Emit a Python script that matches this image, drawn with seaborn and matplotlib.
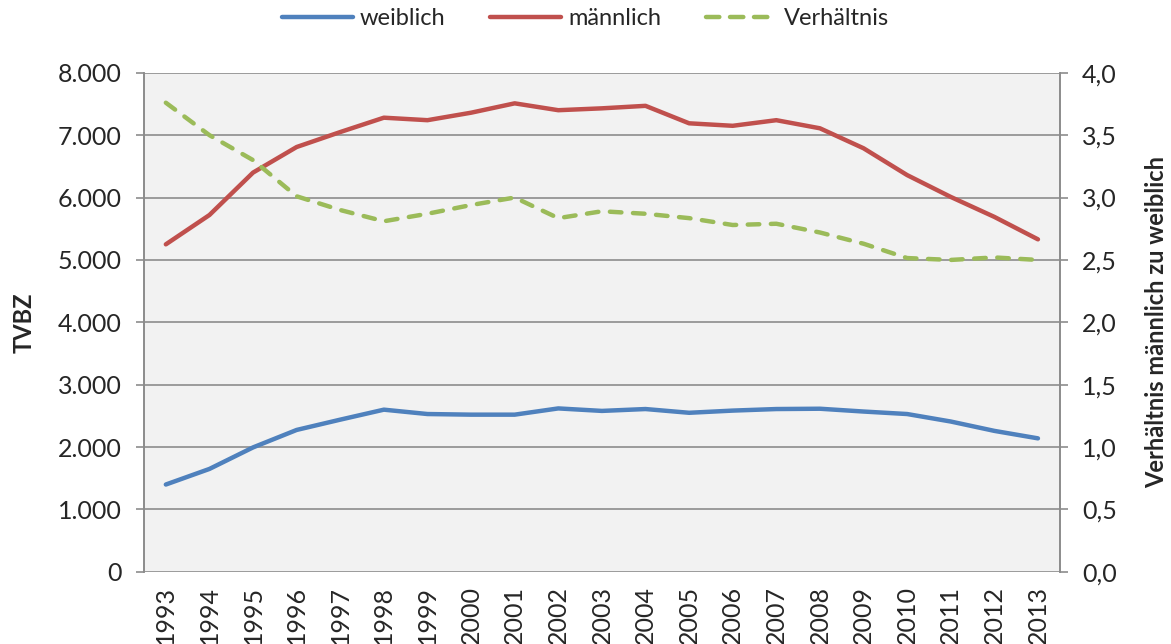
import numpy as np
import pandas as pd
from matplotlib import pyplot as plt
from matplotlib.ticker import FuncFormatter
import seaborn as sns

jahre = list(range(1993, 2014))
weiblich = [1400, 1650, 1995, 2275, 2440, 2600, 2530, 2520, 2520, 2620, 2580,
            2610, 2550, 2585, 2610, 2615, 2570, 2530, 2410, 2260, 2140]
maennlich = [5250, 5720, 6400, 6810, 7050, 7280, 7240, 7360, 7510, 7400, 7430,
             7470, 7190, 7150, 7240, 7110, 6790, 6360, 6010, 5690, 5330]
verhaeltnis = [3.76, 3.50, 3.30, 3.01, 2.90, 2.81, 2.87, 2.94, 3.00, 2.835, 2.89,
               2.87, 2.835, 2.78, 2.79, 2.72, 2.63, 2.515, 2.50, 2.52, 2.50]

sns.set_style('white')
plt.rcParams['font.family'] = ['Lato', 'DejaVu Sans']

df = pd.DataFrame({'idx': np.arange(len(jahre)), 'weiblich': weiblich,
                   'männlich': maennlich, 'Verhältnis': verhaeltnis})

blau, rot, gruen = '#4F81BD', '#C0504D', '#9BBB59'
grau = '#8C8C8C'
fs = 18

fig = plt.figure(figsize=(11.71, 6.44), dpi=100)
ax = fig.add_axes([0.123, 0.112, 0.782, 0.775])
ax.set_facecolor('#F2F2F2')
ax2 = ax.twinx()

sns.lineplot(data=df, x='idx', y='weiblich', ax=ax, color=blau, lw=3.2,
             solid_capstyle='round', label='weiblich', legend=False)
sns.lineplot(data=df, x='idx', y='männlich', ax=ax, color=rot, lw=3.2,
             solid_capstyle='round', label='männlich', legend=False)
sns.lineplot(data=df, x='idx', y='Verhältnis', ax=ax2, color=gruen, lw=3.2,
             dash_capstyle='round', label='Verhältnis', legend=False)
ax2.lines[0].set_dashes((2.6, 2.6))

ax.set_xlim(-0.5, len(jahre) - 0.5)
ax.set_ylim(0, 8000)
ax2.set_ylim(0, 4)
ax.set_yticks(np.arange(0, 8001, 1000))
ax2.set_yticks(np.arange(0, 4.01, 0.5))
ax.yaxis.set_major_formatter(FuncFormatter(lambda v, p: f'{int(v):,}'.replace(',', '.')))
ax2.yaxis.set_major_formatter(FuncFormatter(lambda v, p: f'{v:.1f}'.replace('.', ',')))

ax.set_xticks(np.arange(len(jahre)))
ax.set_xticklabels([str(j) for j in jahre], rotation=90, fontsize=fs)
ax.set_xticks(np.arange(-0.5, len(jahre)), minor=True)
ax.tick_params(axis='x', which='major', length=0, pad=10)
ax.tick_params(axis='x', which='minor', length=6, color=grau, width=1.2, direction='out')
ax.tick_params(axis='y', labelsize=fs, length=6, color=grau, width=1.2, pad=10)
ax2.tick_params(axis='y', labelsize=fs, length=6, color=grau, width=1.2, pad=10)

ax.yaxis.grid(True, color=grau, lw=1.2)
ax.set_axisbelow(True)
for a in (ax, ax2):
    for s in a.spines.values():
        s.set_visible(False)
    a.spines['left'].set_visible(True)
    a.spines['right'].set_visible(True)
    a.spines['left'].set_color(grau)
    a.spines['right'].set_color(grau)
    a.spines['left'].set_linewidth(1.2)
    a.spines['right'].set_linewidth(1.2)

ax.set_xlabel('')
ax.set_ylabel('TVBZ', fontsize=17, fontweight='bold', labelpad=16)
ax2.set_ylabel('Verhältnis männlich zu weiblich', fontsize=17, fontweight='bold', labelpad=20)

h1, l1 = ax.get_legend_handles_labels()
h2, l2 = ax2.get_legend_handles_labels()
leg = fig.legend(h1 + h2, l1 + l2, loc='upper center', bbox_to_anchor=(0.5, 1.02), ncol=3,
                 frameon=False, fontsize=17, handlelength=3.0, columnspacing=1.9,
                 handletextpad=0.3)
leg.get_lines()[2].set_dashes((3.0, 2.4))

fig.savefig('out.png', dpi=100)
